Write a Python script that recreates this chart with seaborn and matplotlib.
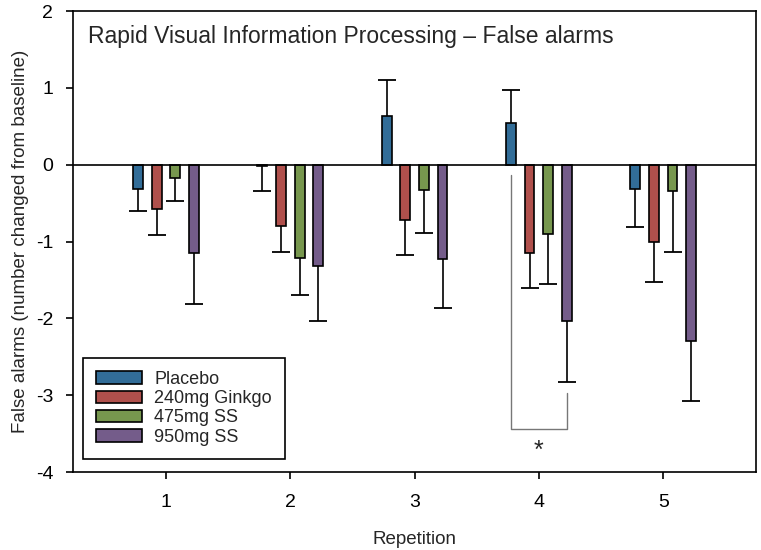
import numpy as np
import pandas as pd
import matplotlib
matplotlib.use("Agg")
import matplotlib.pyplot as plt
import seaborn as sns

# data
repetitions = ["1", "2", "3", "4", "5"]
groups = ["Placebo", "240mg Ginkgo", "475mg SS", "950mg SS"]
colors = ["#2170A9", "#C1403B", "#79A342", "#755591"]

placebo = [-0.31, -0.02, 0.63, 0.54, -0.31]
ginkgo = [-0.58, -0.80, -0.72, -1.15, -1.00]
ss475 = [-0.17, -1.22, -0.33, -0.90, -0.34]
ss950 = [-1.15, -1.32, -1.23, -2.03, -2.29]

# error bar lengths (one sided, away from zero)
placebo_err = [0.29, 0.32, 0.47, 0.43, 0.50]
ginkgo_err = [0.34, 0.34, 0.46, 0.45, 0.52]
ss475_err = [0.30, 0.48, 0.56, 0.65, 0.80]
ss950_err = [0.66, 0.71, 0.64, 0.80, 0.79]

means = [placebo, ginkgo, ss475, ss950]
errs = [placebo_err, ginkgo_err, ss475_err, ss950_err]

rows = []
for g, vals in zip(groups, means):
  for r, v in zip(repetitions, vals):
    rows.append({"Repetition": r, "Group": g, "Value": v})
df = pd.DataFrame(rows)

sns.set_style("white")
plt.rcParams["font.family"] = ["Liberation Sans", "DejaVu Sans"]

fig = plt.figure(figsize=(7.61, 5.5), dpi=100)
ax = fig.add_axes([0.0955, 0.1418, 0.8985, 0.838])

sns.barplot(data=df, x="Repetition", y="Value", hue="Group", order=repetitions,
            hue_order=groups, palette=colors, width=0.6, gap=0.47,
            edgecolor="black", linewidth=1.2, errorbar=None, ax=ax, zorder=3)

# one-sided error bars starting at the bar end
for cont, vals, ee in zip(ax.containers, means, errs):
  xs = [b.get_x() + b.get_width() / 2 for b in cont]
  ends = [v - e if v < 0 else v + e for v, e in zip(vals, ee)]
  ax.vlines(xs, vals, ends, color="black", lw=1.2, zorder=2)
  ax.plot(xs, ends, ls="none", marker="_", markersize=13, mew=1.3,
          color="black", zorder=2)

ax.axhline(0, color="black", lw=1.2, zorder=4)

# significance bracket between placebo and 950mg SS at repetition 4
b_left = ax.containers[0][3]
b_right = ax.containers[3][3]
xl = b_left.get_x() + b_left.get_width() / 2
xr = b_right.get_x() + b_right.get_width() / 2
ax.plot([xl, xl, xr, xr], [-0.13, -3.44, -3.44, -2.97], color="#777777", lw=1.0)
ax.text((xl + xr) / 2, -3.72, "*", ha="center", va="center", fontsize=18)

ax.set_xlim(-0.75, 4.75)
ax.set_ylim(-4, 2)
ax.set_yticks([-4, -3, -2, -1, 0, 1, 2])
ax.set_yticklabels(["-4", "-3", "-2", "-1", "0", "1", "2"])

for s in ax.spines.values():
  s.set_color("black")
  s.set_linewidth(1.2)
ax.tick_params(axis="both", direction="out", length=5, width=1.2,
               labelsize=14, colors="black", left=True, bottom=True)
ax.tick_params(axis="x", pad=11)
ax.tick_params(axis="y", pad=9)

ax.set_xlabel("Repetition", fontsize=13.5, labelpad=14)
ax.set_ylabel("False alarms (number changed from baseline)", fontsize=13.5, labelpad=5)

ax.text(0.022, 0.945, "Rapid Visual Information Processing \u2013 False alarms",
        transform=ax.transAxes, fontsize=16.5, va="center", ha="left")

leg = ax.legend(loc="lower left", bbox_to_anchor=(0.015, 0.028), fontsize=13,
                frameon=True, fancybox=False, edgecolor="black", framealpha=1,
                handlelength=2.5, handleheight=0.7, labelspacing=0.12,
                handletextpad=0.7, borderpad=0.75, borderaxespad=0)
leg.get_frame().set_linewidth(1.2)

fig.savefig("out.png", dpi=100)
